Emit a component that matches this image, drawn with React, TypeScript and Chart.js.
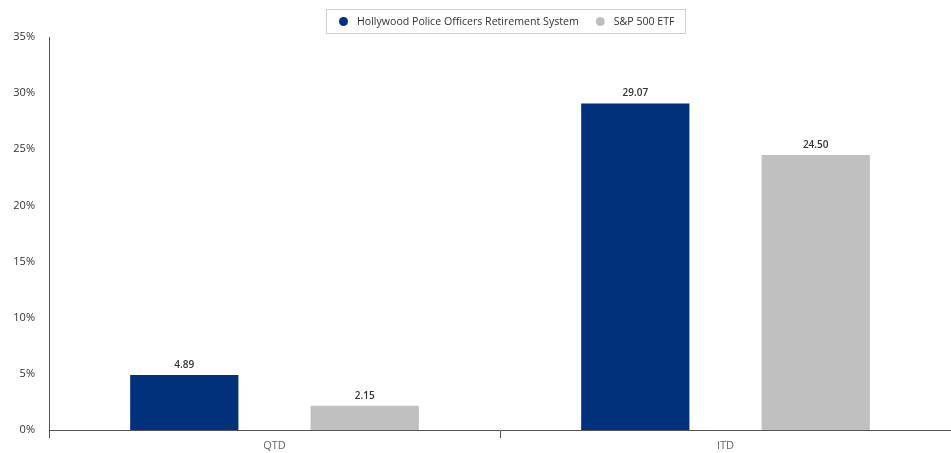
import React, { useEffect, useRef } from "react";
import { Chart, registerables } from "chart.js";

Chart.register(...registerables);

const categories = ["QTD", "ITD"];
const seriesNames = ["Hollywood Police Officers Retirement System", "S&P 500 ETF"];
const fundValues = [4.89, 29.07];
const benchmarkValues = [2.15, 24.5];
const seriesColors = ["#00317a", "#c0c0c0"];

const FONT = "'Open Sans', 'DejaVu Sans', sans-serif";

// Framed legend centred above the plot area.
const framedLegend = {
  id: "framedLegend",
  afterDraw(chart: any) {
    const ctx = chart.ctx;
    const area = chart.chartArea;
    ctx.save();
    ctx.font = `10.6px ${FONT}`;
    const datasets = chart.data.datasets;
    const widths = datasets.map((ds: any) => ctx.measureText(ds.label).width);
    const padL = 13;
    const padR = 10;
    const dot = 9;
    const dotGap = 9;
    const itemGap = 17;
    let total = padL + padR;
    widths.forEach((w: number, i: number) => {
      total += dot + dotGap + w + (i < widths.length - 1 ? itemGap : 0);
    });
    const cx = (area.left + area.right) / 2 + 5;
    const left = Math.round(cx - total / 2);
    const top = 9;
    const h = 24;
    ctx.strokeStyle = "#cfcfcf";
    ctx.lineWidth = 1;
    ctx.strokeRect(left + 0.5, top + 0.5, Math.round(total), h);
    let x = left + padL;
    const cy = top + h / 2 + 0.5;
    datasets.forEach((ds: any, i: number) => {
      ctx.fillStyle = ds.backgroundColor;
      ctx.beginPath();
      ctx.arc(x + dot / 2, cy, dot / 2, 0, Math.PI * 2);
      ctx.fill();
      x += dot + dotGap;
      ctx.fillStyle = "#333333";
      ctx.textAlign = "left";
      ctx.textBaseline = "middle";
      ctx.fillText(ds.label, x, cy);
      x += widths[i] + itemGap;
    });
    ctx.restore();
  },
};

// Writes each bar's value above it.
const valueLabels = {
  id: "valueLabels",
  afterDatasetsDraw(chart: any) {
    const ctx = chart.ctx;
    ctx.save();
    ctx.font = `600 10px ${FONT}`;
    ctx.fillStyle = "#333333";
    ctx.textAlign = "center";
    ctx.textBaseline = "bottom";
    chart.data.datasets.forEach((ds: any, i: number) => {
      const meta = chart.getDatasetMeta(i);
      meta.data.forEach((bar: any, j: number) => {
        ctx.fillText(Number(ds.data[j]).toFixed(2), bar.x, bar.y - 5);
      });
    });
    ctx.restore();
  },
};

export default function App() {
  const canvasRef = useRef<HTMLCanvasElement | null>(null);

  useEffect(() => {
    if (!canvasRef.current) return;
    const chart = new Chart(canvasRef.current, {
      type: "bar",
      data: {
        labels: categories,
        datasets: [
          {
            label: seriesNames[0],
            data: fundValues,
            backgroundColor: seriesColors[0],
            barPercentage: 0.6,
            categoryPercentage: 0.8,
          },
          {
            label: seriesNames[1],
            data: benchmarkValues,
            backgroundColor: seriesColors[1],
            barPercentage: 0.6,
            categoryPercentage: 0.8,
          },
        ],
      },
      options: {
        animation: false,
        responsive: false,
        maintainAspectRatio: false,
        layout: { padding: { top: 37, right: 0, bottom: 0, left: 0 } },
        plugins: {
          legend: { display: false },
          tooltip: { enabled: false },
        },
        scales: {
          x: {
            offset: true,
            grid: {
              display: true,
              offset: true,
              drawOnChartArea: false,
              drawTicks: true,
              tickLength: 8,
              color: "#555555",
            },
            border: { display: true, color: "#555555", width: 1 },
            ticks: {
              color: "#666666",
              padding: 1,
              font: { family: FONT, size: 11 },
            },
            afterFit: (scale: any) => {
              scale.height = 23;
            },
          },
          y: {
            min: 0,
            max: 35,
            grid: { display: false, drawTicks: false },
            border: { display: true, color: "#555555", width: 1 },
            ticks: {
              stepSize: 5,
              padding: 14,
              color: "#333333",
              font: { family: FONT, size: 11 },
              callback: (v: any) => `${v}%`,
            },
            afterFit: (scale: any) => {
              scale.width = 49;
            },
          },
        },
      },
      plugins: [framedLegend, valueLabels],
    });
    return () => chart.destroy();
  }, []);

  return (
    <div style={{ position: "absolute", left: 0, top: 0, width: 951, height: 453, background: "#ffffff" }}>
      <canvas ref={canvasRef} width={951} height={453} />
    </div>
  );
}
